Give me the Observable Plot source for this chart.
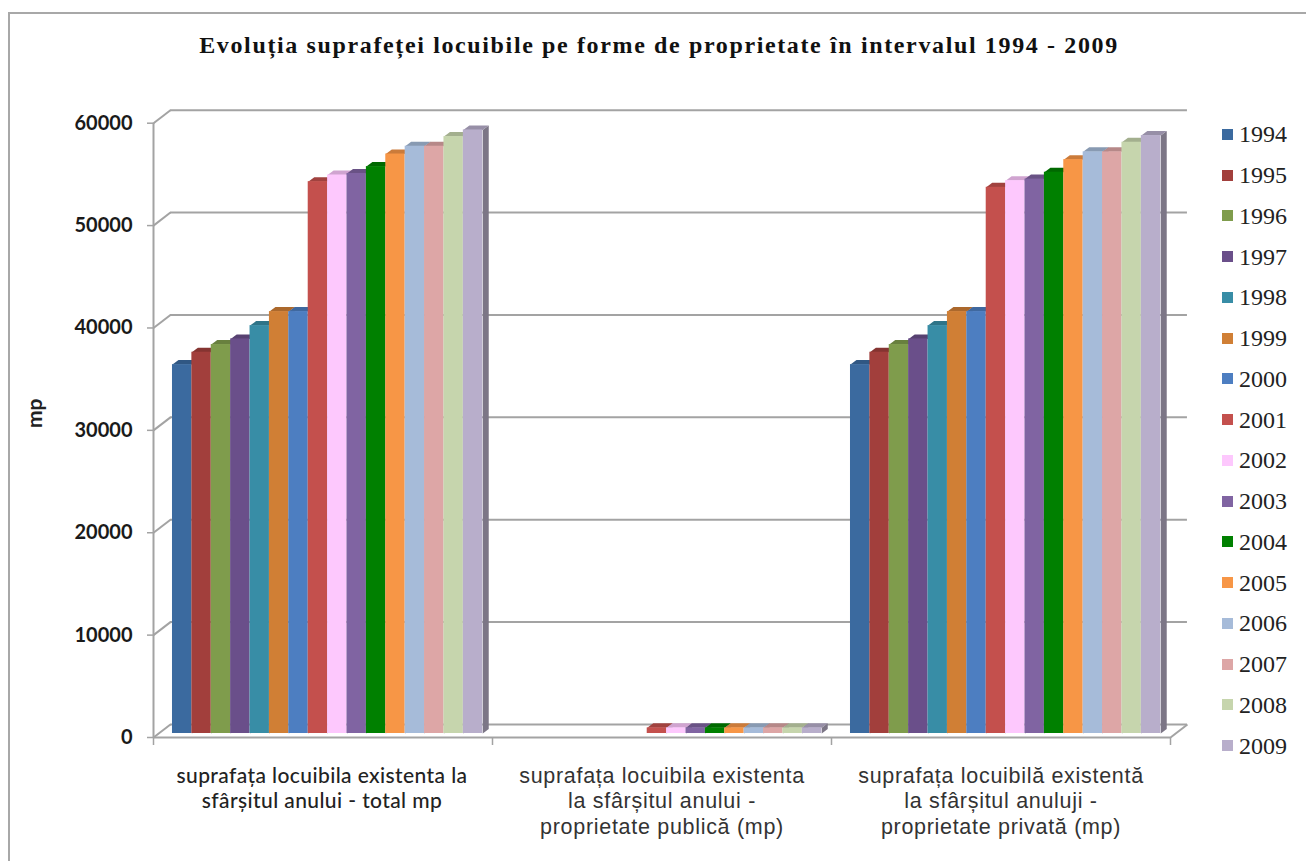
<!DOCTYPE html>
<html><head><meta charset="utf-8">
<script src="https://cdn.jsdelivr.net/npm/d3@7"></script>
<script src="https://cdn.jsdelivr.net/npm/@observablehq/plot@0.6"></script>
<style>
html,body{margin:0;padding:0;background:#fff;overflow:hidden;width:1306px;height:861px}
#frame{position:absolute;left:8px;top:12px;right:0;bottom:0;border-top:2px solid #a8a8a8;border-left:2px solid #a8a8a8}
#chart{position:absolute;left:0;top:0}
#title{position:absolute;left:0;top:32px;width:1318px;text-align:center;font:bold 24px "Liberation Serif";letter-spacing:1.63px;color:#111;white-space:nowrap}
#legend{position:absolute;left:1222px;top:114px;font:24px "Liberation Serif";color:#222}
#legend div{height:40.75px;line-height:40px;display:flex;align-items:center;white-space:nowrap}
#legend i{display:inline-block;width:11px;height:11px;margin-right:6px}
.lab1 text{letter-spacing:.4px}
.lab2 text{letter-spacing:.7px}
</style></head><body>
<div id="chart"></div><div id="frame"></div>
<div id="title">Evoluția suprafeței locuibile pe forme de proprietate în intervalul 1994 - 2009</div>
<div id="legend"></div>
<script>
const years=[1994,1995,1996,1997,1998,1999,2000,2001,2002,2003,2004,2005,2006,2007,2008,2009];
const colors=["#3b6a9f","#a23f3c","#7f9c4c","#6a4f8a","#388da6","#d07f35","#4d7ec1","#c4504d","#fdc8fd","#8064a2","#008000","#f79646","#a6bbd9","#dda6a6","#c6d5ad","#b8aecb"];
const totalValues=[36030,37240,37990,38540,39840,41210,41210,53900,54550,54700,55370,56600,57360,57360,58300,58950];
const publicValues=[null,null,null,null,null,null,null,550,550,550,550,550,550,550,550,550];
const privateValues=[36030,37240,37990,38540,39840,41210,41210,53350,54000,54150,54820,56050,56810,56810,57750,58400];
const categoryValues=[totalValues,publicValues,privateValues];
const yTicks=[0,10000,20000,30000,40000,50000,60000];
const xTicks=[0,1,2,3];
const labelFirst=["suprafața locuibila existenta la\nsfârșitul anului - total mp"];
const labelOthers=["suprafața locuibila existenta\nla sfârșitul anului -\nproprietate publică (mp)","suprafața locuibilă existentă\nla sfârșitul anuluji -\nproprietate privată (mp)"];

const gray="#a3a3a3";
const wallX=0.05, wallY=1270, barPad=0.056, barW=0.0572, depX=0.0177, depY=440;

const bars=[];
categoryValues.forEach((vals,c)=>vals.forEach((v,j)=>{
  if(v==null)return;
  const x1=c+barPad+j*barW;
  bars.push({id:c+"-"+j,x1,x2:x1+barW,v,color:colors[j]});
}));
const tops=bars.flatMap(b=>[[b.x1,b.v],[b.x2,b.v],[b.x2+depX,b.v+depY],[b.x1+depX,b.v+depY]]
  .map(([x,y])=>({id:b.id,x,y,color:d3.color(b.color).darker(0.55).formatHex()})));
const sides=bars.flatMap(b=>[[b.x2,0],[b.x2+depX,depY],[b.x2+depX,b.v+depY],[b.x2,b.v]]
  .map(([x,y])=>({id:b.id,x,y,color:"#7c7686"})));
const polyOpts={x:"x",y:"y",z:"id",fill:"color",stroke:"none",curve:"linear-closed",dy:-4};

const plot=Plot.plot({
  width:1306,height:861,
  marginLeft:153,marginRight:136,marginTop:122.7,marginBottom:124,
  x:{domain:[0,3],axis:null},
  y:{domain:[0,60000],axis:null},
  color:{type:"identity"},
  style:{background:"#fff"},
  marks:[
    Plot.ruleY(yTicks,{y:d=>d+wallY,x1:wallX,x2:3+wallX,stroke:gray,strokeWidth:2}),
    Plot.link(yTicks,{x1:0,y1:d=>d,x2:wallX,y2:d=>d+wallY,stroke:gray,strokeWidth:2}),
    Plot.link([0],{x1:3,y1:0,x2:3+wallX,y2:wallY,stroke:gray,strokeWidth:2}),
    Plot.ruleY([0],{x1:0,x2:3,stroke:gray,strokeWidth:2}),
    Plot.ruleX([0],{y1:0,y2:60000,stroke:gray,strokeWidth:2}),
    Plot.axisY({ticks:yTicks,tickSize:6,tickPadding:15,label:null,stroke:gray,strokeWidth:1.5,
      fill:"#1a1a1a",fontSize:20,fontFamily:"Lato",fontWeight:700,tickFormat:d=>String(d)}),
    Plot.axisX({ticks:xTicks,tickSize:8,label:null,stroke:gray,strokeWidth:1.5,tickFormat:()=>""}),
    Plot.line(sides,polyOpts),
    Plot.line(tops,polyOpts),
    Plot.rectY(bars,{x1:"x1",x2:"x2",y1:0,y2:"v",fill:"color",dy:-4}),
    Plot.text(labelFirst,{x:0.497,y:0,dy:27,text:d=>d,lineAnchor:"top",lineHeight:1.22,fontSize:21,fontFamily:"Lato",fontWeight:500,fill:"#222",className:"lab1"}),
    Plot.text(labelOthers,{x:(d,i)=>i+1.5,y:0,dy:27,text:d=>d,lineAnchor:"top",lineHeight:1.19,fontSize:21.5,fontFamily:"Liberation Sans",fill:"#333",className:"lab2"}),
    Plot.text(["mp"],{frameAnchor:"left",y:30230,dx:-118,text:d=>d,rotate:-90,fontSize:21,fontFamily:"Lato",fontWeight:700,fill:"#222"})
  ]
});
document.getElementById("chart").append(plot);
const legend=d3.select("#legend");
years.forEach((y,i)=>{const r=legend.append("div");r.append("i").style("background",colors[i]);r.append("span").text(y);});
</script>
</body></html>
